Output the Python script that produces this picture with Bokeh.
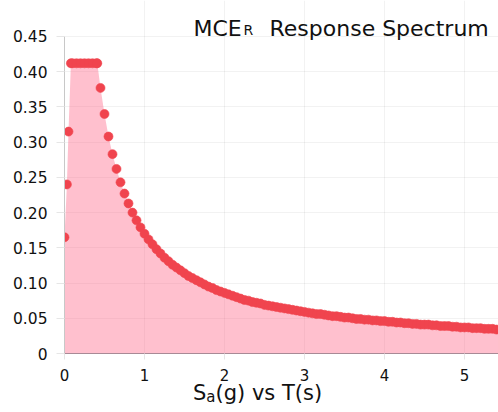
from bokeh.plotting import figure
from bokeh.models import Range1d, FixedTicker, Label, Div
from bokeh.layouts import column
from bokeh.embed import file_html
from bokeh.resources import INLINE

# Period T (s) and spectral acceleration Sa (g)
T = [0.0, 0.03, 0.05, 0.08, 0.10, 0.15, 0.20, 0.25, 0.30, 0.35, 0.40, 0.41,
     0.45, 0.50, 0.55, 0.60, 0.65, 0.70, 0.75, 0.80, 0.85, 0.90, 0.95, 1.00,
     1.05, 1.10, 1.15, 1.20, 1.25, 1.30, 1.35, 1.40, 1.45, 1.50, 1.55, 1.60,
     1.65, 1.70, 1.75, 1.80, 1.85, 1.90, 1.95, 2.00, 2.05, 2.10, 2.15, 2.20,
     2.25, 2.30, 2.35, 2.40, 2.45, 2.50, 2.55, 2.60, 2.65, 2.70, 2.75, 2.80,
     2.85, 2.90, 2.95, 3.00, 3.05, 3.10, 3.15, 3.20, 3.25, 3.30, 3.35, 3.40,
     3.45, 3.50, 3.55, 3.60, 3.65, 3.70, 3.75, 3.80, 3.85, 3.90, 3.95, 4.00,
     4.05, 4.10, 4.15, 4.20, 4.25, 4.30, 4.35, 4.40, 4.45, 4.50, 4.55, 4.60,
     4.65, 4.70, 4.75, 4.80, 4.85, 4.90, 4.95, 5.00, 5.05, 5.10, 5.15, 5.20,
     5.25, 5.30, 5.35, 5.40, 5.45, 5.50]
SA = [0.165, 0.240, 0.315, 0.412, 0.412, 0.412, 0.412, 0.412, 0.412, 0.412, 0.412, 0.412,
      0.377, 0.340, 0.308, 0.283, 0.262, 0.243, 0.227, 0.213, 0.200, 0.189, 0.179, 0.170,
      0.162, 0.155, 0.148, 0.142, 0.136, 0.131, 0.126, 0.122, 0.118, 0.114, 0.110, 0.107,
      0.104, 0.101, 0.098, 0.095, 0.093, 0.090, 0.088, 0.086, 0.084, 0.082, 0.080, 0.078,
      0.076, 0.075, 0.073, 0.072, 0.071, 0.069, 0.068, 0.067, 0.066, 0.065, 0.064, 0.063,
      0.062, 0.061, 0.060, 0.059, 0.058, 0.057, 0.056, 0.056, 0.055, 0.054, 0.053, 0.053,
      0.052, 0.051, 0.051, 0.050, 0.049, 0.049, 0.048, 0.048, 0.047, 0.047, 0.046, 0.046,
      0.045, 0.045, 0.044, 0.044, 0.043, 0.043, 0.042, 0.042, 0.041, 0.041, 0.041, 0.040,
      0.040, 0.039, 0.039, 0.039, 0.038, 0.038, 0.037, 0.037, 0.037, 0.036, 0.036, 0.036,
      0.035, 0.035, 0.035, 0.034, 0.034, 0.034]

X_TICKS = [0, 1, 2, 3, 4, 5]
Y_TICKS = [0, 0.05, 0.10, 0.15, 0.20, 0.25, 0.30, 0.35, 0.40, 0.45]
Y_LABELS = ["0", "0.05", "0.10", "0.15", "0.20", "0.25", "0.30", "0.35", "0.40", "0.45"]
Y_MAX = 0.45

FONT = "DejaVu Sans"

# frame reaches the top of the canvas so the title can sit inside it;
# axis line and vertical grid lines are bounded to the value range
p = figure(width=498, height=386, x_range=Range1d(0, 5.425), y_range=Range1d(0, 0.5011),
           output_backend="svg", toolbar_location=None,
           min_border_left=64, min_border_right=0, min_border_top=0, min_border_bottom=33)
p.outline_line_color = None
p.background_fill_color = "white"
p.border_fill_color = "white"

p.varea(x=T, y1=0, y2=SA, fill_color="#ff5078", fill_alpha=0.36)
p.scatter(x=T, y=SA, size=9, fill_color="#f0444e", line_color="#f0444e", line_alpha=0.6)

for g in (p.xgrid, p.ygrid):
    g.grid_line_color = "#000000"
    g.grid_line_alpha = 0.05
p.xgrid.ticker = FixedTicker(ticks=X_TICKS)
p.xgrid.bounds = (0, Y_MAX)
p.ygrid.ticker = FixedTicker(ticks=Y_TICKS)

xa = p.xaxis[0]
xa.ticker = FixedTicker(ticks=X_TICKS)
xa.axis_line_color = "#a88a96"
xa.major_tick_line_color = "#e6e6e6"
xa.major_tick_out = 6
xa.major_tick_in = 0
xa.minor_tick_line_color = None
xa.major_label_standoff = 9
xa.major_label_text_font = FONT
xa.major_label_text_font_size = "15px"
xa.major_label_text_color = "#111111"

ya = p.yaxis[0]
ya.ticker = FixedTicker(ticks=Y_TICKS)
ya.bounds = (0, Y_MAX)
ya.major_label_overrides = {t: s for t, s in zip(Y_TICKS, Y_LABELS)}
ya.axis_line_color = "#c8c8c8"
ya.major_tick_line_color = "#e6e6e6"
ya.major_tick_out = 8
ya.major_tick_in = 0
ya.minor_tick_line_color = None
ya.major_label_standoff = 9
ya.major_label_text_font = FONT
ya.major_label_text_font_size = "15.5px"
ya.major_label_text_color = "#111111"


def lab(text, x, y, size):
    # screen units are measured from the frame's bottom-left corner (frame bottom at y=353)
    p.add_layout(Label(x=x, y=y, x_units="screen", y_units="screen", text=text,
                       text_font=FONT, text_font_size=size, text_color="#111111",
                       text_align="left", text_baseline="alphabetic"))

# title: MCE with subscript R
lab("MCE", 129, 324.7, "22px")
lab("R", 179, 323.5, "14px")
lab("Response Spectrum", 205, 324.7, "22px")

# x axis title: S with subscript a
xtitle = Div(
    text=('<div style="font-family:\'DejaVu Sans\';font-size:21px;line-height:15.4px;'
          'color:#111111;padding-left:193px;white-space:nowrap;">'
          'S<sub style="font-size:15px;vertical-align:-2px;line-height:0;">a</sub>(g) vs T(s)</div>'),
    width=498, height=26, margin=0)

layout = column(p, xtitle, spacing=0)

open("out.html", "w").write(file_html(layout, INLINE))
